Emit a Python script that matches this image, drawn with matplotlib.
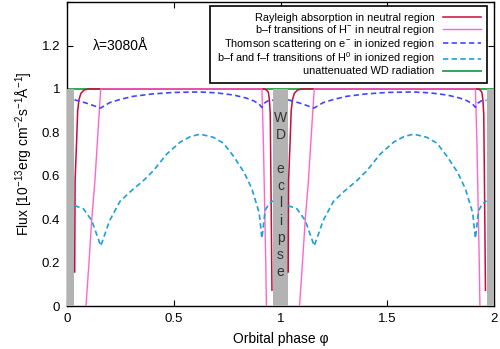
import numpy as np
import matplotlib
matplotlib.use('Agg')
import matplotlib.pyplot as plt
from matplotlib.ticker import FormatStrFormatter

plt.rcParams['font.family'] = ['Liberation Sans', 'DejaVu Sans']
plt.rcParams['mathtext.fontset'] = 'custom'
plt.rcParams['mathtext.rm'] = 'Liberation Sans'
plt.rcParams['mathtext.it'] = 'Liberation Sans:italic'
plt.rcParams['mathtext.bf'] = 'Liberation Sans:bold'

# one orbit profile (phase 0..1), same curve repeated for the 2nd orbit
orbits = [0, 1]
eclipse_half = 0.034

# Rayleigh absorption in neutral region
ray_phase = [0.036, 0.038, 0.045, 0.050, 0.056, 0.065, 0.080, 0.100, 0.500,
             0.900, 0.925, 0.935, 0.943, 0.948, 0.952, 0.956, 0.960]
ray_flux = [0.157, 0.58, 0.76, 0.90, 0.95, 0.98, 0.995, 1.0, 1.0,
            1.0, 1.0, 0.995, 0.985, 0.95, 0.885, 0.50, 0.073]

# b-f transitions of H- in neutral region
hm_phase = [0.089, 0.103, 0.116, 0.131, 0.145, 0.158, 0.170, 0.500,
            0.900, 0.913, 0.920, 0.926, 0.931, 0.934]
hm_flux = [0.0, 0.2, 0.4, 0.58, 0.8, 1.0, 1.0, 1.0,
           1.0, 1.0, 0.75, 0.45, 0.2, 0.0]

# Thomson scattering on e- in ionized region
th_phase = [0.035, 0.090, 0.157, 0.200, 0.250, 0.310, 0.400, 0.500, 0.620,
            0.700, 0.780, 0.840, 0.875, 0.900, 0.913, 0.925, 0.940, 0.965]
th_flux = [0.950, 0.935, 0.912, 0.937, 0.952, 0.966, 0.977, 0.984, 0.986,
           0.982, 0.972, 0.958, 0.945, 0.930, 0.915, 0.935, 0.945, 0.948]

# b-f and f-f transitions of H0 in ionized region
h0_phase = [0.035, 0.077, 0.116, 0.158, 0.200, 0.248, 0.300, 0.358, 0.405,
            0.467, 0.530, 0.577, 0.623, 0.686, 0.733, 0.780, 0.830, 0.866,
            0.900, 0.913, 0.928, 0.945, 0.965]
h0_flux = [0.463, 0.448, 0.394, 0.277, 0.394, 0.482, 0.530, 0.578, 0.624,
           0.700, 0.755, 0.780, 0.792, 0.777, 0.750, 0.690, 0.615, 0.540,
           0.430, 0.312, 0.440, 0.470, 0.485]

# unattenuated WD radiation
wd_phase = [0.0, 2.0]
wd_flux = [1.0, 1.0]

eclipse_centers = [0.0, 1.0, 2.0]

labels = ['Rayleigh absorption in neutral region',
          'b\u2013f transitions of H$^{-}$ in neutral region',
          'Thomson scattering on e$^{-}$ in ionized region',
          'b\u2013f and f\u2013f transitions of H$^{0}$ in ionized region',
          'unattenuated WD radiation']

fig = plt.figure(figsize=(5, 3.49), dpi=100)
ax = fig.add_axes([0.134, 0.123, 0.854, 0.871])

for c in eclipse_centers:
    ax.axvspan(c - eclipse_half, c + eclipse_half, ymin=0, ymax=1.0 / 1.4,
               color='#b3b3b3', lw=0, zorder=3)

ax.text(1.0, 0.512, 'W\nD\n\ne\nc\nl\ni\np\ns\ne', ha='center', va='center',
        fontsize=10, color='#333333', linespacing=1.28, zorder=6)

h_ray = h_hm = h_th = h_h0 = None
for n in orbits:
    h_ray, = ax.plot(np.array(ray_phase) + n, ray_flux, color='#cc0a3c', lw=1.1, zorder=5)
    h_hm, = ax.plot(np.array(hm_phase) + n, hm_flux, color='#ff66cc', lw=1.0, zorder=5)
    h_th, = ax.plot(np.array(th_phase) + n, th_flux, color='#4444ff', lw=1.2,
                    dashes=(3.2, 2.0), zorder=5)
    h_h0, = ax.plot(np.array(h0_phase) + n, h0_flux, color='#1e9fd6', lw=1.2,
                    dashes=(3.2, 2.0), zorder=5)
h_wd, = ax.plot(wd_phase, wd_flux, color='#2a9d48', lw=1.3, zorder=2)

ax.text(0.25, 1.2, '\u03bb=3080\u00c5', ha='center', va='center', fontsize=10)

leg = ax.legend([h_ray, h_hm, h_th, h_h0, h_wd], labels, loc='upper right',
                bbox_to_anchor=(0.984, 0.987), markerfirst=False, fontsize=7.9,
                handlelength=3.4, labelspacing=0.0, borderpad=0.6,
                handletextpad=0.8, fancybox=False, framealpha=1, borderaxespad=0)
leg.get_frame().set_edgecolor('black')
leg.get_frame().set_linewidth(1.2)

ax.set_xlim(0, 2)
ax.set_ylim(0, 1.4)
ax.set_xticks([0, 0.5, 1, 1.5, 2])
ax.set_yticks([0, 0.2, 0.4, 0.6, 0.8, 1.0, 1.2, 1.4])
ax.set_yticklabels(['0', '0.2', '0.4', '0.6', '0.8', '1', '1.2', ''])
ax.xaxis.set_major_formatter(FormatStrFormatter('%g'))
ax.tick_params(direction='in', top=True, right=True, length=4, width=0.8,
               labelsize=9.5, pad=5)
for s in ax.spines.values():
    s.set_linewidth(1.0)

ax.set_xlabel('Orbital phase \u03c6', fontsize=10, labelpad=5)
ax.set_ylabel('Flux [10$^{-13}$erg cm$^{-2}$s$^{-1}$\u00c5$^{-1}$]', fontsize=10, labelpad=5)

fig.savefig('out.png', dpi=100)
